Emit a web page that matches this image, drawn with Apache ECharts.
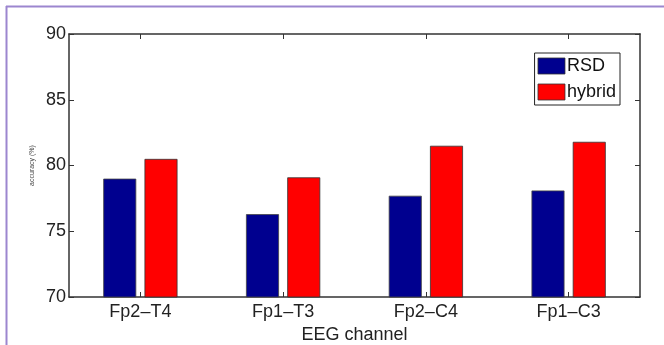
<!DOCTYPE html>
<html><head><meta charset="utf-8">
<script src="https://cdn.jsdelivr.net/npm/echarts@6/dist/echarts.min.js"></script>
<style>html,body{margin:0;padding:0;background:#fff}#c{width:664px;height:345px}</style>
</head><body><div id="c"></div>
<script>
const categories = ['Fp2\u2013T4', 'Fp1\u2013T3', 'Fp2\u2013C4', 'Fp1\u2013C3'];
const rsd = [79.0, 76.3, 77.7, 78.1];
const hybrid = [80.5, 79.1, 81.5, 81.8];
const yTicks = [70, 75, 80, 85, 90];

const chart = echarts.init(document.getElementById('c'));
const font = 'Liberation Sans, Arial, sans-serif';
const axisLine = {show: true, lineStyle: {color: '#333', width: 1.5}};
chart.setOption({
  animation: false,
  backgroundColor: '#fff',
  grid: {left: 69, top: 34, right: 24, bottom: 48, containLabel: false, outerBoundsMode: 'none'},
  legend: {
    right: 44, top: 53, orient: 'vertical', itemWidth: 27, itemHeight: 16, itemGap: 8,
    padding: [4, 4, 4, 3], borderColor: '#222', borderWidth: 1, backgroundColor: '#fff',
    icon: 'rect', itemStyle: {borderColor: '#333', borderWidth: 0.8},
    textStyle: {fontFamily: font, fontSize: 18, color: '#111', padding: [0, 0, 0, -3]},
    data: ['RSD', 'hybrid']
  },
  xAxis: [{
    type: 'category', data: categories, position: 'bottom',
    axisLine: axisLine, axisTick: {show: true, inside: true, alignWithLabel: true, length: 5, lineStyle: {color: '#333'}},
    axisLabel: {fontFamily: font, fontSize: 18, color: '#222', margin: 6},
    name: 'EEG channel', nameLocation: 'middle', nameGap: 22,
    nameTextStyle: {fontFamily: font, fontSize: 18, color: '#222'}
  }, {
    type: 'category', data: categories, position: 'top',
    axisLine: axisLine, axisTick: {show: true, inside: true, alignWithLabel: true, length: 5, lineStyle: {color: '#333'}},
    axisLabel: {show: false}
  }],
  yAxis: [{
    type: 'value', min: 70, max: 90, interval: 5, position: 'left',
    axisLine: axisLine, axisTick: {show: true, inside: true, length: 5, lineStyle: {color: '#333'}},
    splitLine: {show: false},
    axisLabel: {fontFamily: font, fontSize: 18, color: '#222', margin: 3,
      formatter: v => yTicks.includes(v) ? String(v) : ''},
    name: 'accuracy (%)', nameLocation: 'middle', nameGap: 30,
    nameTextStyle: {fontFamily: font, fontSize: 7, color: '#444'}
  }, {
    type: 'value', min: 70, max: 90, interval: 5, position: 'right',
    axisLine: axisLine, axisTick: {show: true, inside: true, length: 5, lineStyle: {color: '#333'}},
    splitLine: {show: false}, axisLabel: {show: false}
  }],
  series: [{
    name: 'RSD', type: 'bar', data: rsd, barWidth: 33, barGap: '25%',
    itemStyle: {color: '#00008F', borderColor: '#444', borderWidth: 0.8}
  }, {
    name: 'hybrid', type: 'bar', data: hybrid, barWidth: 33, barGap: '25%',
    itemStyle: {color: '#FF0000', borderColor: '#333', borderWidth: 0.8}
  }],
  graphic: [
    {type: 'line', shape: {x1: 6, y1: 6.5, x2: 664, y2: 6.5}, style: {stroke: '#9c86cf', lineWidth: 2}},
    {type: 'line', shape: {x1: 6.5, y1: 6, x2: 6.5, y2: 345}, style: {stroke: '#9c86cf', lineWidth: 2}}
  ]
});
</script></body></html>
